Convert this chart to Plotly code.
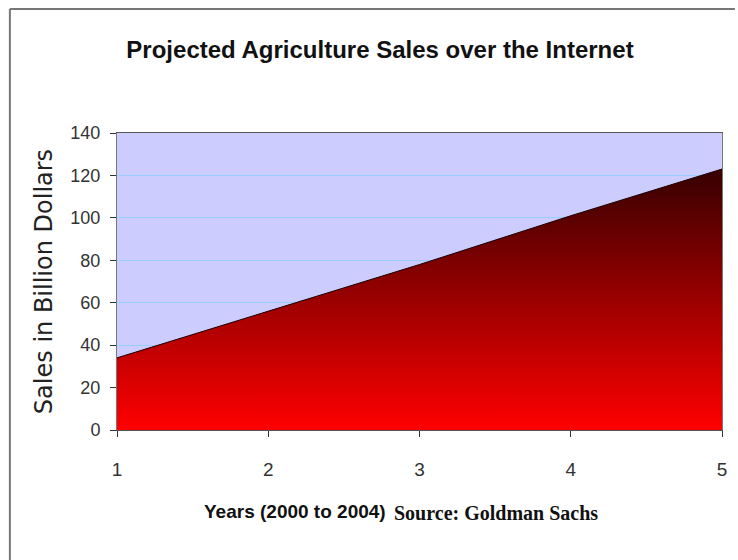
import plotly.graph_objects as go

years = [1, 2, 3, 4, 5]
sales = [34, 56, 78, 101, 123]
y_ticks = [0, 20, 40, 60, 80, 100, 120, 140]

SANS = "Liberation Sans, Arial, sans-serif"

# plot-area pixel geometry helpers (plot area: x 117..727, y 133..430)
def px_x(px):
    return (px - 117) / 610

def px_y(py):
    return (430 - py) / 297

fig = go.Figure()
fig.add_trace(go.Scatter(
    x=years, y=sales, mode="lines", fill="tozeroy",
    line=dict(color="#1a0000", width=1),
    fillgradient=dict(type="vertical", start=0, stop=125,
                      colorscale=[[0, "#ff0000"], [1, "#330000"]]),
    showlegend=False, hoverinfo="x+y",
))

fig.update_layout(
    width=738, height=560,
    margin=dict(l=117, r=11, t=133, b=130),
    paper_bgcolor="white", plot_bgcolor="#ccccff",
    title=dict(text="<b>Projected Agriculture Sales over the Internet</b>",
               x=380/738, xanchor="center", y=1-50/560, yanchor="middle",
               font=dict(family=SANS, size=24, color="#111111")),
    xaxis=dict(range=[1, 5], tickvals=years, ticks="outside", ticklen=6,
               tickcolor="#333333", showgrid=False, zeroline=False,
               showline=True, linecolor="#555555", linewidth=1, mirror=True,
               tickfont=dict(family=SANS, size=19, color="#333333"),
               ticklabelstandoff=16),
    yaxis=dict(range=[0, 140], tickvals=y_ticks, ticks="outside", ticklen=6,
               tickcolor="#333333", showgrid=True, gridcolor="#99ccff", gridwidth=1,
               zeroline=False, showline=True, linecolor="#777777", linewidth=1,
               mirror=True, ticklabelstandoff=6,
               tickfont=dict(family=SANS, size=18, color="#333333"),
               title=dict(text="Sales in Billion Dollars", standoff=10,
                          font=dict(family="DejaVu Sans, Arial, sans-serif", size=24,
                                    color="#222222"))),
    annotations=[
        dict(text="<b>Years (2000 to 2004)</b>", x=px_x(390), y=px_y(511),
             xref="paper", yref="paper", xanchor="right", yanchor="middle",
             showarrow=False, font=dict(family=SANS, size=19, color="#111111")),
        dict(text="<b>Source: Goldman Sachs</b>", x=px_x(394), y=px_y(513),
             xref="paper", yref="paper", xanchor="left", yanchor="middle",
             showarrow=False,
             font=dict(family="Liberation Serif, Times New Roman, serif", size=20,
                       color="#111111")),
    ],
)

# outer frame of the chart (top and left edges)
fig.add_shape(type="line", xref="paper", yref="paper",
              x0=px_x(9), x1=px_x(740), y0=px_y(9), y1=px_y(9),
              line=dict(color="#777777", width=2))
fig.add_shape(type="line", xref="paper", yref="paper",
              x0=px_x(9), x1=px_x(9), y0=px_y(9), y1=px_y(562),
              line=dict(color="#777777", width=2))

fig.write_html("out.html")
